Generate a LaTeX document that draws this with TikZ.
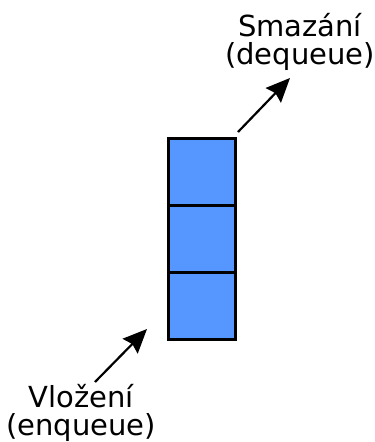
\documentclass[tikz,border=0pt]{standalone}
\usepackage{fontspec}
\setmainfont{DejaVu Sans}
\usetikzlibrary{arrows.meta}
\definecolor{qblue}{RGB}{85,150,255}
\begin{document}
\begin{tikzpicture}[x=1pt,y=-1pt,
  cell/.style={draw=black, line width=3pt, fill=qblue, minimum width=67pt, minimum height=67pt, inner sep=0pt, outer sep=0pt},
  lbl/.style={align=center, font=\fontsize{29}{28}\selectfont, inner sep=0pt, anchor=base},
  arr/.style={line width=2.2pt, -{Stealth[length=24pt,width=21pt,inset=3pt]}}]
\useasboundingbox (0,0) rectangle (375,442);
\node[cell] (c1) at (201.5,171.5) {};
\node[cell] (c2) at (201.5,238.5) {};
\node[cell] (c3) at (201.5,305.5) {};
\node[lbl] (deq) at (300,64) {Smazání\\(dequeue)};
\node[lbl] (enq) at (81,435) {Vložení\\(enqueue)};
\coordinate (a1s) at (238,132);
\coordinate (a1e) at (290,78);
\coordinate (a2s) at (95,382);
\coordinate (a2e) at (147,329);
\draw[arr] (a1s) -- (a1e);
\draw[arr] (a2s) -- (a2e);
\end{tikzpicture}
\end{document}
